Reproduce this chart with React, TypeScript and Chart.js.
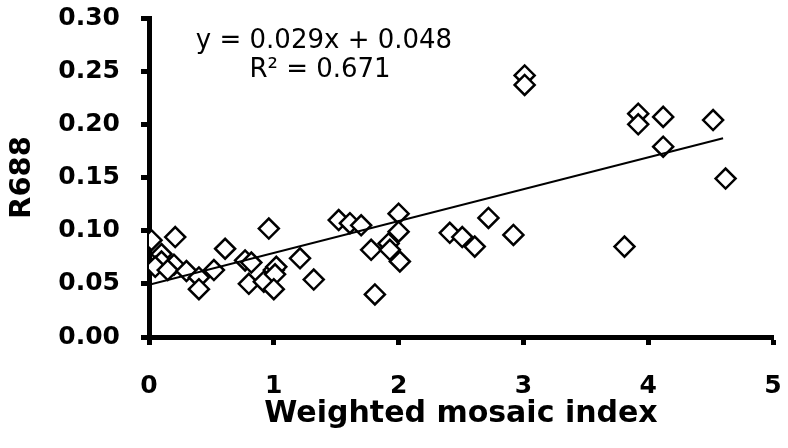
import React, { useEffect, useRef } from "react";
import { Chart, registerables } from "chart.js";

Chart.register(...registerables);

// Observed data: weighted mosaic index (x) vs R688 reflectance (y)
const mosaicIndex = [
  0.02, 0.21, 0.10, 0.10, 0.05, 0.20, 0.15, 0.30, 0.40, 0.40,
  0.52, 0.61, 0.77, 0.80, 0.82, 0.92, 0.96, 1.00, 1.02, 1.01,
  1.00, 1.21, 1.32, 1.52, 1.61, 1.70, 1.78, 1.81, 1.92, 1.93,
  2.00, 2.00, 2.01, 2.41, 2.51, 2.61, 2.72, 2.92, 3.01, 3.01,
  3.81, 3.92, 3.92, 4.12, 4.12, 4.52, 4.62,
];
const r688 = [
  0.091, 0.094, 0.078, 0.071, 0.066, 0.068, 0.063, 0.062, 0.056, 0.045,
  0.063, 0.083, 0.072, 0.050, 0.070, 0.052, 0.102, 0.063, 0.066, 0.059,
  0.045, 0.074, 0.054, 0.110, 0.107, 0.105, 0.082, 0.040, 0.088, 0.082,
  0.116, 0.099, 0.071, 0.098, 0.094, 0.085, 0.112, 0.096, 0.246, 0.237,
  0.085, 0.210, 0.200, 0.207, 0.179, 0.204, 0.149,
];

// Linear trend line endpoints
const trendX = [0, 4.6];
const trendY = [0.049, 0.187];

// Axis ticks
const xTicks = [0, 1, 2, 3, 4, 5];
const yTicks = [0, 0.05, 0.1, 0.15, 0.2, 0.25, 0.3];

const xTitle = "Weighted mosaic index";
const yTitle = "R688";
const equationLines = ["y = 0.029x + 0.048", "R\u00B2 = 0.671"];

const FONT = "'DejaVu Sans', 'Liberation Sans', Arial, sans-serif";

const equationPlugin = {
  id: "equationText",
  afterDatasetsDraw(chart: any) {
    const { ctx, chartArea } = chart;
    ctx.save();
    ctx.font = `26px ${FONT}`;
    ctx.fillStyle = "#000";
    ctx.textAlign = "center";
    ctx.textBaseline = "alphabetic";
    ctx.fillText(equationLines[0], chartArea.left + 175, chartArea.top + 30);
    ctx.fillText(equationLines[1], chartArea.left + 171, chartArea.top + 59);
    ctx.restore();
  },
};

export default function App() {
  const canvasRef = useRef<HTMLCanvasElement | null>(null);

  useEffect(() => {
    if (!canvasRef.current) return;
    const points = mosaicIndex.map((x, i) => ({ x, y: r688[i] }));
    const trend = trendX.map((x, i) => ({ x, y: trendY[i] }));

    const axisCommon = {
      border: { display: true, color: "#000", width: 5 },
      grid: {
        display: true,
        drawOnChartArea: false,
        drawTicks: true,
        tickLength: 8,
        tickWidth: 5,
        tickColor: "#000",
      },
    };

    const chart = new Chart(canvasRef.current, {
      type: "scatter",
      data: {
        datasets: [
          {
            type: "line",
            data: trend,
            borderColor: "#000",
            borderWidth: 2,
            pointRadius: 0,
            fill: false,
          } as any,
          {
            type: "scatter",
            data: points,
            pointStyle: "rectRot",
            pointRadius: 10,
            pointBorderWidth: 2.5,
            backgroundColor: "#fff",
            borderColor: "#000",
          } as any,
        ],
      },
      options: {
        animation: false,
        responsive: false,
        layout: { padding: { left: 0, right: 15, top: 18, bottom: 0 } },
        plugins: { legend: { display: false }, tooltip: { enabled: false } },
        scales: {
          x: {
            type: "linear",
            position: "bottom",
            min: 0,
            max: 5,
            ...axisCommon,
            afterBuildTicks: (s: any) => {
              s.ticks = xTicks.map((v) => ({ value: v }));
            },
            afterFit: (s: any) => {
              s.height = 111;
              s.paddingLeft = 0;
              s.paddingRight = 0;
            },
            ticks: {
              color: "#000",
              padding: 26,
              autoSkip: false,
              maxRotation: 0,
              font: { family: FONT, size: 25, weight: "bold" },
              callback: (v: any) => String(v),
            },
            title: {
              display: true,
              text: xTitle,
              color: "#000",
              font: { family: FONT, size: 30, weight: "bold" },
              padding: { top: 0, bottom: 16 },
            },
          },
          y: {
            type: "linear",
            position: "left",
            min: 0,
            max: 0.3,
            ...axisCommon,
            afterBuildTicks: (s: any) => {
              s.ticks = yTicks.map((v) => ({ value: v }));
            },
            afterFit: (s: any) => {
              s.width = 149;
              s.paddingTop = 0;
              s.paddingBottom = 0;
            },
            ticks: {
              color: "#000",
              padding: 21,
              autoSkip: false,
              font: { family: FONT, size: 25, weight: "bold" },
              callback: (v: any) => Number(v).toFixed(2),
            },
            title: {
              display: true,
              text: yTitle,
              color: "#000",
              font: { family: FONT, size: 29, weight: "bold" },
              padding: { top: 5, bottom: 0 },
            },
          },
        },
      } as any,
      plugins: [equationPlugin],
    });

    return () => chart.destroy();
  }, []);

  return (
    <div
      style={{
        position: "fixed",
        left: 0,
        top: 0,
        width: 788,
        height: 448,
        background: "#fff",
      }}
    >
      <canvas ref={canvasRef} width={788} height={448} />
    </div>
  );
}
